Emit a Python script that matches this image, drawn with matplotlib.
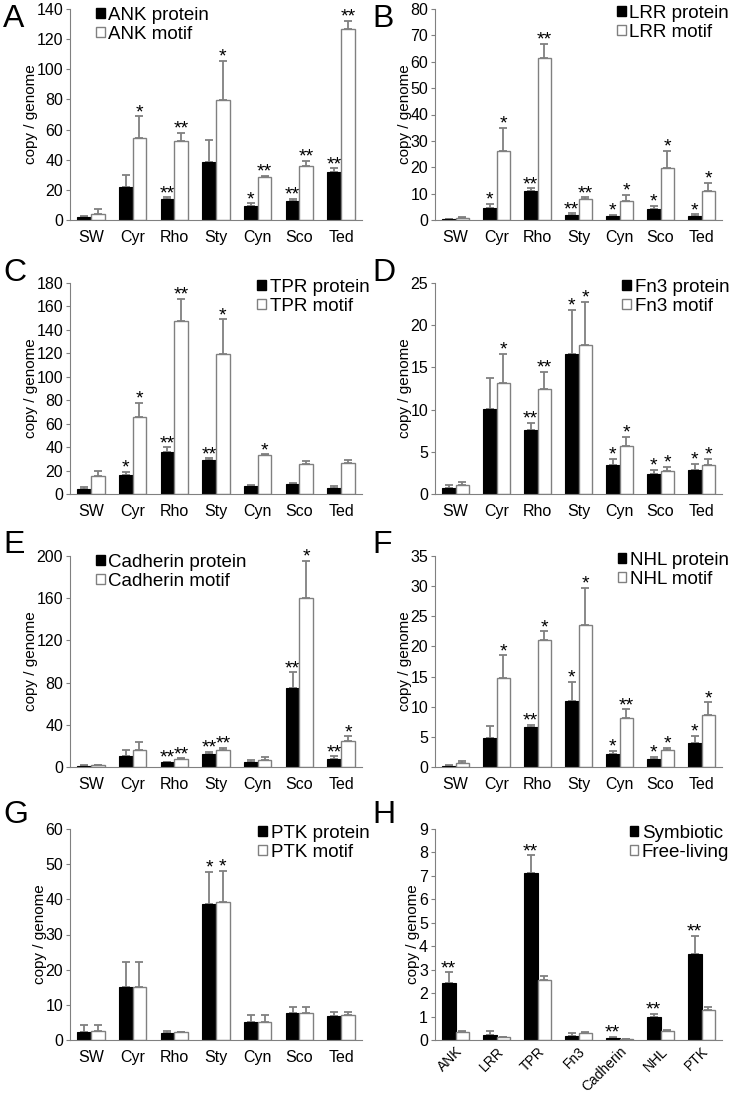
import numpy as np
import matplotlib
matplotlib.use('Agg')
import matplotlib.pyplot as plt
from matplotlib.patches import Patch

plt.rcParams['font.family'] = ['Liberation Sans', 'DejaVu Sans']

species = ['SW', 'Cyr', 'Rho', 'Sty', 'Cyn', 'Sco', 'Ted']
domains = ['ANK', 'LRR', 'TPR', 'Fn3', 'Cadherin', 'NHL', 'PTK']

# A: ANK
ank_prot = [1.8, 21.7, 14.0, 38.8, 9.3, 12.6, 31.7]
ank_prot_err = [1.0, 8.3, 1.0, 14.0, 1.7, 1.5, 2.6]
ank_prot_sig = ['', '', '**', '', '*', '**', '**']
ank_mot = [3.8, 54.3, 52.3, 79.8, 28.4, 35.9, 126.7]
ank_mot_err = [3.3, 14.4, 5.7, 26.0, 1.1, 3.3, 5.3]
ank_mot_sig = ['', '*', '**', '*', '**', '**', '**']

# B: LRR
lrr_prot = [0.2, 4.7, 11.0, 1.9, 1.5, 4.2, 1.6]
lrr_prot_err = [0.2, 1.4, 1.0, 0.6, 0.4, 1.2, 0.6]
lrr_prot_sig = ['', '*', '**', '**', '*', '*', '*']
lrr_mot = [0.6, 26.0, 61.5, 7.8, 7.3, 19.6, 11.1]
lrr_mot_err = [0.7, 9.0, 5.2, 0.8, 2.3, 6.7, 3.1]
lrr_mot_sig = ['', '*', '**', '**', '*', '*', '*']

# C: TPR
tpr_prot = [4.3, 16.3, 35.7, 28.6, 7.1, 8.3, 5.4]
tpr_prot_err = [2.0, 2.6, 4.3, 2.0, 0.3, 0.8, 1.2]
tpr_prot_sig = ['', '*', '**', '**', '', '', '']
tpr_mot = [15.7, 65.7, 148.0, 119.4, 33.4, 25.7, 26.6]
tpr_mot_err = [4.3, 12.3, 18.6, 29.6, 0.6, 2.6, 2.3]
tpr_mot_sig = ['', '*', '**', '*', '*', '', '']

# D: Fn3
fn3_prot = [0.67, 10.1, 7.57, 16.6, 3.43, 2.37, 2.84]
fn3_prot_err = [0.39, 3.7, 0.83, 5.2, 0.77, 0.47, 0.76]
fn3_prot_sig = ['', '', '**', '*', '*', '*', '*']
fn3_mot = [1.03, 13.1, 12.5, 17.6, 5.7, 2.76, 3.43]
fn3_mot_err = [0.43, 3.5, 2.0, 5.15, 1.1, 0.44, 0.77]
fn3_mot_sig = ['', '*', '**', '*', '*', '*', '*']

# E: Cadherin
cad_prot = [0.9, 10.7, 4.4, 12.6, 4.4, 74.8, 7.9]
cad_prot_err = [1.0, 5.1, 0.6, 1.9, 1.9, 14.8, 2.2]
cad_prot_sig = ['', '', '**', '**', '', '**', '**']
cad_mot = [1.6, 15.8, 7.6, 15.8, 6.3, 160.6, 24.3]
cad_mot_err = [0.3, 7.9, 0.6, 2.2, 2.8, 35.0, 4.7]
cad_mot_sig = ['', '', '**', '**', '', '*', '*']

# F: NHL
nhl_prot = [0.17, 4.8, 6.6, 11.0, 2.16, 1.33, 4.0]
nhl_prot_err = [0.22, 2.0, 0.4, 3.1, 0.5, 0.33, 1.2]
nhl_prot_sig = ['', '', '**', '*', '*', '*', '*']
nhl_mot = [0.72, 14.7, 21.0, 23.6, 8.1, 2.88, 8.6]
nhl_mot_err = [0.33, 3.8, 1.5, 6.1, 1.5, 0.28, 2.1]
nhl_mot_sig = ['', '*', '*', '*', '**', '*', '*']

# G: PTK
ptk_prot = [2.4, 15.0, 2.1, 38.8, 5.1, 7.7, 6.9]
ptk_prot_err = [1.9, 7.1, 0.5, 9.1, 1.9, 1.7, 1.2]
ptk_prot_sig = ['', '', '', '*', '', '', '']
ptk_mot = [2.5, 15.1, 2.2, 39.1, 5.2, 7.8, 7.0]
ptk_mot_err = [1.8, 7.0, 0.2, 9.0, 1.8, 1.6, 1.1]
ptk_mot_sig = ['', '', '', '*', '', '', '']

# H: symbiotic vs free-living
sym = [2.44, 0.21, 7.11, 0.18, 0.085, 0.98, 3.66]
sym_err = [0.44, 0.16, 0.76, 0.10, 0.055, 0.14, 0.78]
sym_sig = ['**', '', '**', '', '**', '**', '**']
free = [0.34, 0.11, 2.58, 0.30, 0.03, 0.38, 1.26]
free_err = [0.03, 0.03, 0.17, 0.03, 0.01, 0.04, 0.16]
free_sig = ['', '', '', '', '', '', '']

panels = [
    ('A', 'ANK protein', 'ANK motif', species, ank_prot, ank_prot_err, ank_prot_sig,
     ank_mot, ank_mot_err, ank_mot_sig, 140, 20, 'upper left'),
    ('B', 'LRR protein', 'LRR motif', species, lrr_prot, lrr_prot_err, lrr_prot_sig,
     lrr_mot, lrr_mot_err, lrr_mot_sig, 80, 10, 'upper right'),
    ('C', 'TPR protein', 'TPR motif', species, tpr_prot, tpr_prot_err, tpr_prot_sig,
     tpr_mot, tpr_mot_err, tpr_mot_sig, 180, 20, 'upper right'),
    ('D', 'Fn3 protein', 'Fn3 motif', species, fn3_prot, fn3_prot_err, fn3_prot_sig,
     fn3_mot, fn3_mot_err, fn3_mot_sig, 25, 5, 'upper right'),
    ('E', 'Cadherin protein', 'Cadherin motif', species, cad_prot, cad_prot_err, cad_prot_sig,
     cad_mot, cad_mot_err, cad_mot_sig, 200, 40, 'upper left'),
    ('F', 'NHL protein', 'NHL motif', species, nhl_prot, nhl_prot_err, nhl_prot_sig,
     nhl_mot, nhl_mot_err, nhl_mot_sig, 35, 5, 'upper right'),
    ('G', 'PTK protein', 'PTK motif', species, ptk_prot, ptk_prot_err, ptk_prot_sig,
     ptk_mot, ptk_mot_err, ptk_mot_sig, 60, 10, 'upper right'),
    ('H', 'Symbiotic', 'Free-living', domains, sym, sym_err, sym_sig,
     free, free_err, free_sig, 9, 1, 'upper right'),
]

fig = plt.figure(figsize=(7.3, 10.94), dpi=100)

W, H = 730, 1094
col_x = [(70, 362), (435, 722)]
row_y = [(9, 220), (283, 494), (556, 767), (829, 1040)]
letter_pos = [(3, 4), (372, 4), (3, 258), (372, 258), (3, 530), (372, 530), (3, 800), (372, 800)]

gray = '#808080'
bw = 0.33

for i, p in enumerate(panels):
    (letter, lab1, lab2, cats, v1, e1, s1, v2, e2, s2, ymax, ystep, legloc) = p
    c = i % 2
    r = i // 2
    x0, x1 = col_x[c]
    y0, y1 = row_y[r]
    ax = fig.add_axes([x0 / W, 1 - y1 / H, (x1 - x0) / W, (y1 - y0) / H])
    x = np.arange(len(cats))
    ax.bar(x - bw / 2, v1, bw, color='black', edgecolor='black', linewidth=0.8, zorder=2)
    ax.bar(x + bw / 2, v2, bw, color='white', edgecolor=gray, linewidth=1.0, zorder=2)
    ax.errorbar(x - bw / 2, v1, yerr=[np.zeros(len(v1)), e1], fmt='none', ecolor=gray,
                elinewidth=1.3, capsize=3, capthick=1.3, zorder=1)
    ax.errorbar(x + bw / 2, v2, yerr=[np.zeros(len(v2)), e2], fmt='none', ecolor=gray,
                elinewidth=1.3, capsize=3, capthick=1.3, zorder=1)
    for j in range(len(cats)):
        if s1[j]:
            ax.annotate(s1[j], (x[j] - bw / 2, v1[j] + e1[j]), xytext=(0, -3.5),
                        textcoords='offset points', ha='center', va='bottom', fontsize=14)
        if s2[j]:
            ax.annotate(s2[j], (x[j] + bw / 2, v2[j] + e2[j]), xytext=(0, -3.5),
                        textcoords='offset points', ha='center', va='bottom', fontsize=14)
    ax.set_xlim(-0.5, len(cats) - 0.5)
    ax.set_ylim(0, ymax)
    ax.set_yticks(np.arange(0, ymax + ystep / 2, ystep))
    ax.set_xticks(x)
    if letter == 'H':
        ax.set_xticklabels(cats, rotation=45, ha='right', rotation_mode='anchor', fontsize=10)
        ax.tick_params(axis='x', length=0, pad=3)
    else:
        ax.set_xticklabels(cats, fontsize=11.5)
        ax.tick_params(axis='x', length=0, pad=7)
    ax.tick_params(axis='y', labelsize=11.5, length=3, color=gray, pad=2)
    for sp in ['top', 'right']:
        ax.spines[sp].set_visible(False)
    ax.spines['left'].set_color(gray)
    ax.spines['bottom'].set_color(gray)
    ax.set_ylabel('copy / genome', fontsize=11, labelpad=-1)
    handles = [Patch(facecolor='black', edgecolor='black'),
               Patch(facecolor='white', edgecolor=gray)]
    if legloc == 'upper left':
        ax.legend(handles, [lab1, lab2], loc='upper left', bbox_to_anchor=(0.09, 1.01),
                  frameon=False, fontsize=13.5, handlelength=0.45, handleheight=0.45,
                  handletextpad=0.2, labelspacing=0.1, borderaxespad=0, borderpad=0)
    else:
        ax.legend(handles, [lab1, lab2], loc='upper right', bbox_to_anchor=(1.025, 1.02),
                  frameon=False, fontsize=13.5, handlelength=0.45, handleheight=0.45,
                  handletextpad=0.2, labelspacing=0.1, borderaxespad=0, borderpad=0)
    lx, ly = letter_pos[i]
    fig.text(lx / W, 1 - ly / H, letter, fontsize=23, ha='left', va='top')

fig.savefig('out.png', dpi=100)
